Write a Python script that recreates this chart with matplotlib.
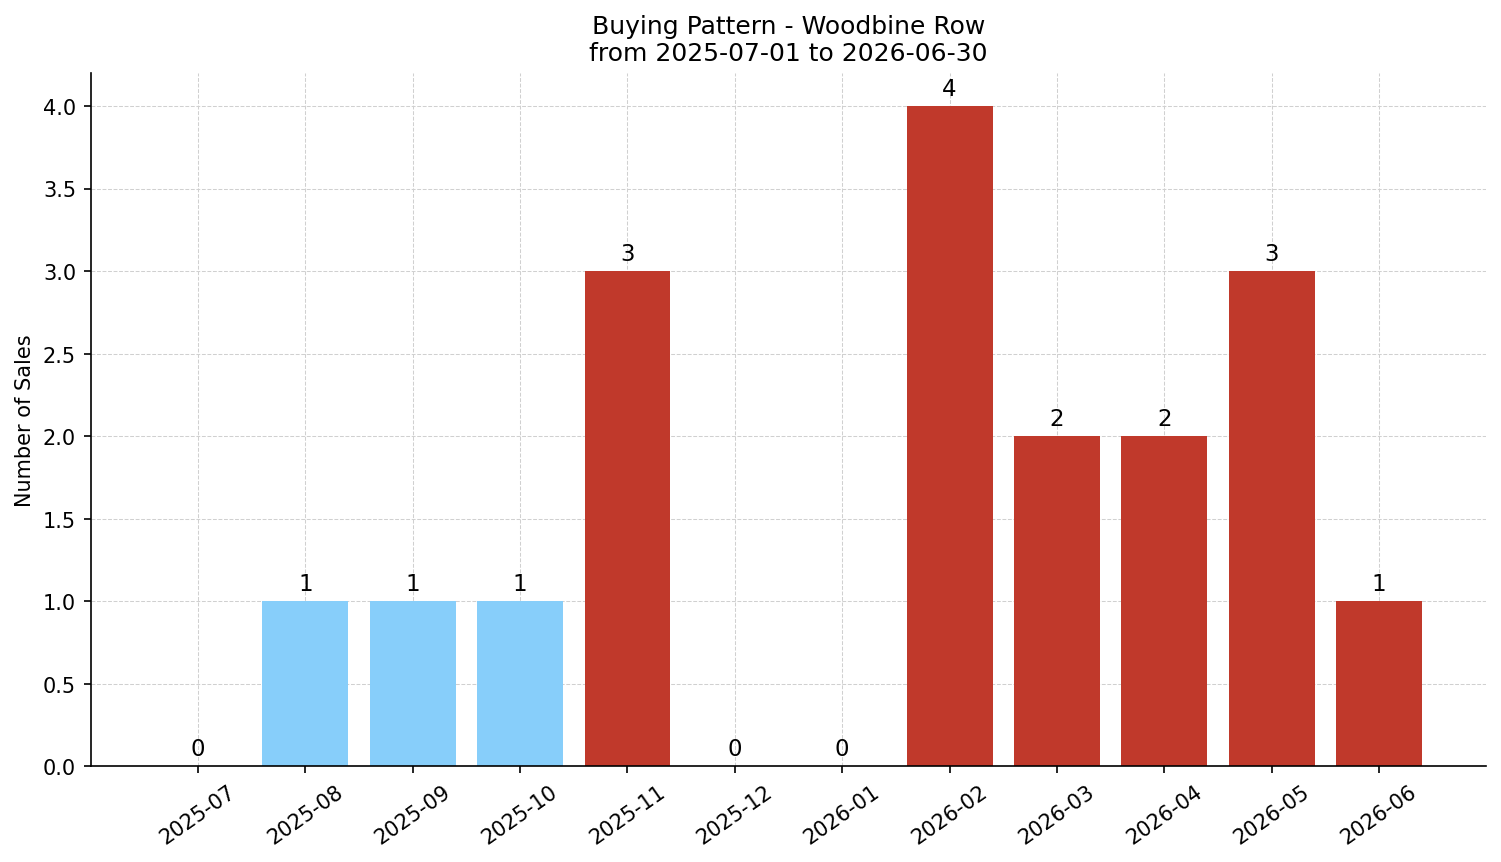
import numpy as np
import matplotlib.pyplot as plt

months = ["2025-07", "2025-08", "2025-09", "2025-10", "2025-11", "2025-12",
          "2026-01", "2026-02", "2026-03", "2026-04", "2026-05", "2026-06"]
sales = [0, 1, 1, 1, 3, 0, 0, 4, 2, 2, 3, 1]
# light blue = low months, red = high months
colors = ["#87CEFA"] * 4 + ["#C0392B"] * 8

fig, ax = plt.subplots(figsize=(10.007, 5.753), dpi=150)

x = np.arange(len(months))
bars = ax.bar(x, sales, color=colors, width=0.8, zorder=2)

for xi, v in zip(x, sales):
    ax.annotate(str(v), (xi, v), xytext=(0, 3), textcoords="offset points",
                ha="center", va="bottom", fontsize=11)

ax.set_xticks(x)
ax.set_xticklabels(months, rotation=35, fontsize=10)
ax.tick_params(axis="y", labelsize=10)
ax.set_ylabel("Number of Sales", fontsize=10)
ax.set_title("Buying Pattern - Woodbine Row\nfrom 2025-07-01 to 2026-06-30", fontsize=12)
ax.set_ylim(0, 4.2)
ax.set_xlim(-1, 12)
ax.yaxis.set_major_formatter(plt.FormatStrFormatter("%.1f"))
ax.grid(True, linestyle="--", color="#d0d0d0", linewidth=0.5, zorder=0)
ax.spines["top"].set_visible(False)
ax.spines["right"].set_visible(False)

plt.tight_layout(pad=0.7)
plt.savefig("out.png", dpi=150)
